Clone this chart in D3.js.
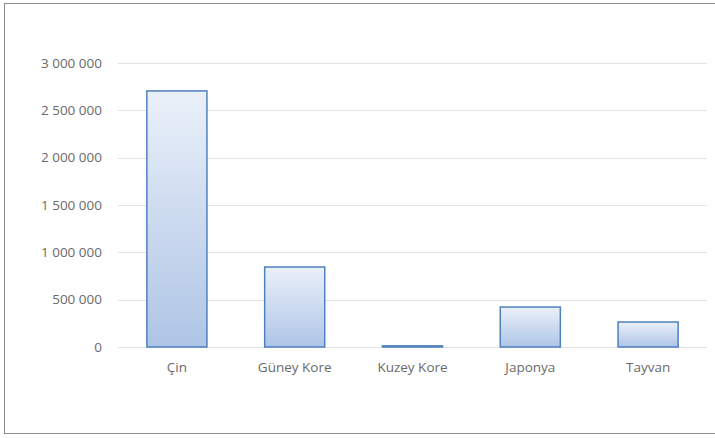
<!DOCTYPE html>
<html>
<head>
<meta charset="utf-8">
<script src="https://cdn.jsdelivr.net/npm/d3@7"></script>
<style>
  body { margin: 0; background: #fff; }
  text { font-family: "Open Sans", "Noto Sans", sans-serif; }
</style>
</head>
<body>
<svg id="chart" width="715" height="438"></svg>
<script>
const countries = ['Çin', 'Güney Kore', 'Kuzey Kore', 'Japonya', 'Tayvan'];
const values = [2705000, 845000, 12000, 422000, 264000];
const yTicks = [0, 500000, 1000000, 1500000, 2000000, 2500000, 3000000];

const svg = d3.select('#chart');

// chart frame
svg.append('rect')
  .attr('x', 4.5).attr('y', 3.5)
  .attr('width', 716).attr('height', 430)
  .attr('fill', '#fff')
  .attr('stroke', '#8c8c8c');

const margin = {left: 118, right: 8, top: 63, bottom: 91};
const width = 715 - margin.left - margin.right;
const height = 438 - margin.top - margin.bottom;

const g = svg.append('g').attr('transform', `translate(${margin.left},${margin.top})`);

const x = d3.scaleBand().domain(countries).range([0, width]).paddingInner(0.49).paddingOuter(0.245);
const y = d3.scaleLinear().domain([0, 3000000]).range([height, 0]);

const fmt = v => d3.format(',')(v).replace(/,/g, ' ');

const defs = svg.append('defs');
const grad = defs.append('linearGradient')
  .attr('id', 'barGrad').attr('x1', 0).attr('y1', 0).attr('x2', 0).attr('y2', 1);
grad.append('stop').attr('offset', '0%').attr('stop-color', '#eaf0f9');
grad.append('stop').attr('offset', '100%').attr('stop-color', '#afc5e6');

// gridlines
g.append('g')
  .selectAll('line')
  .data(yTicks)
  .join('line')
  .attr('x1', 0).attr('x2', width)
  .attr('y1', d => Math.round(y(d)) + 0.5).attr('y2', d => Math.round(y(d)) + 0.5)
  .attr('stroke', '#e3e3e3');

// y axis labels
const yAxis = g.append('g')
  .call(d3.axisLeft(y).tickValues(yTicks).tickSize(0).tickPadding(16).tickFormat(fmt));
yAxis.select('.domain').remove();
yAxis.selectAll('text').attr('fill', '#6a6a6a').style('font-size', '13.5px');

// bars
g.selectAll('rect.bar')
  .data(values)
  .join('rect')
  .attr('class', 'bar')
  .attr('x', (d, i) => x(countries[i]))
  .attr('y', d => y(d))
  .attr('width', x.bandwidth())
  .attr('height', d => Math.max(1, y(0) - y(d)))
  .attr('fill', 'url(#barGrad)')
  .attr('stroke', '#4f81bd')
  .attr('stroke-width', 1.5);

// x axis labels
const xAxis = g.append('g')
  .attr('transform', `translate(0,${height})`)
  .call(d3.axisBottom(x).tickSize(0).tickPadding(15));
xAxis.select('.domain').remove();
xAxis.selectAll('text').attr('fill', '#6a6a6a').style('font-size', '13.5px');
</script>
</body>
</html>
